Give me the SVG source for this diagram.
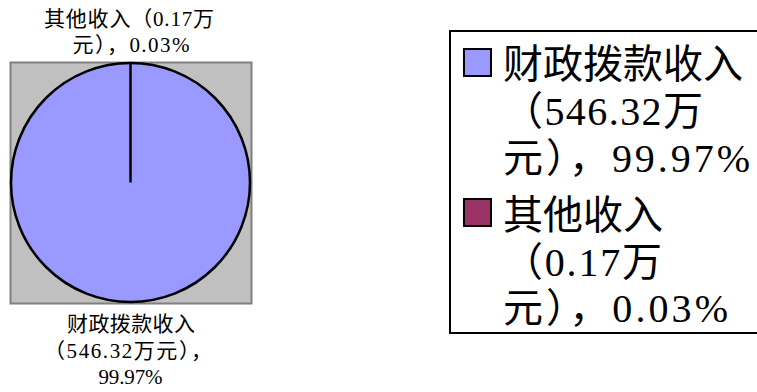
<svg xmlns="http://www.w3.org/2000/svg" width="757" height="392" viewBox="0 0 757 392">
<style>
text{font-family:"Liberation Serif","Noto Sans CJK SC",serif;fill:#000}
.s{font-size:21px}
.l{font-size:40px}
.n{font-family:"Liberation Serif",serif}
.sw{stroke:#000;stroke-width:2}
</style>
<rect x="0" y="0" width="757" height="392" fill="#fff"/>
<g id="plot">
<rect x="10.5" y="62.5" width="241" height="241" fill="#C0C0C0" stroke="#808080" stroke-width="2"/>
</g>
<g id="pie">
<circle cx="130.5" cy="182.5" r="119.5" fill="#9999FF" stroke="#000" stroke-width="2.5"/>
<line x1="130.5" y1="182.5" x2="130.5" y2="63" stroke="#000" stroke-width="2.5"/>
</g>
<g id="label-other">
<text class="s" x="129" y="26" text-anchor="middle" textLength="170" lengthAdjust="spacing">其他收入（<tspan class="n">0.17</tspan>万</text>
<text class="s" x="131" y="52" text-anchor="middle" textLength="117" lengthAdjust="spacing">元），<tspan class="n">0.03%</tspan></text>
</g>
<g id="label-fiscal">
<text class="s" x="131" y="331" text-anchor="middle" textLength="128" lengthAdjust="spacing">财政拨款收入</text>
<text class="s" x="128" y="358" text-anchor="middle" textLength="168" lengthAdjust="spacing">（<tspan class="n">546.32</tspan>万元），</text>
<text class="s n" x="130.5" y="384" text-anchor="middle" textLength="64" lengthAdjust="spacing">99.97%</text>
</g>
<g id="legend">
<rect x="450" y="31" width="330" height="302" fill="#fff" stroke="#000" stroke-width="2"/>
<rect class="sw" x="464" y="49" width="27" height="27" fill="#9999FF"/>
<text class="l" x="503" y="78">财政拨款收入</text>
<text class="l" x="503" y="125" textLength="200" lengthAdjust="spacing">（<tspan class="n">546.32</tspan>万</text>
<text class="l" x="503" y="172" textLength="247" lengthAdjust="spacing">元），<tspan class="n">99.97%</tspan></text>
<rect class="sw" x="464" y="199" width="27" height="27" fill="#993366"/>
<text class="l" x="503" y="229">其他收入</text>
<text class="l" x="503" y="276" textLength="159" lengthAdjust="spacing">（<tspan class="n">0.17</tspan>万</text>
<text class="l" x="503" y="322" textLength="225" lengthAdjust="spacing">元），<tspan class="n">0.03%</tspan></text>
</g>
</svg>
